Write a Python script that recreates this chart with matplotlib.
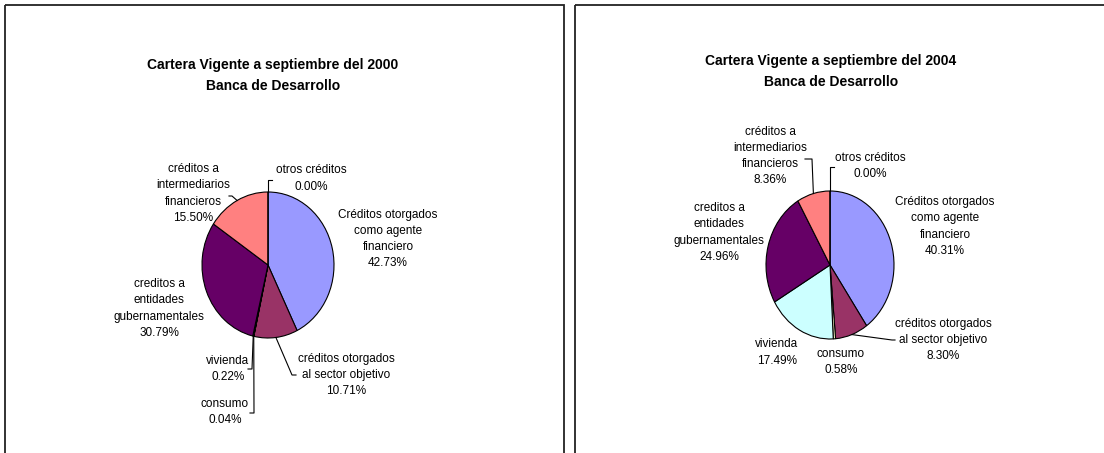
import numpy as np
import matplotlib
matplotlib.use("Agg")
import matplotlib.pyplot as plt
from matplotlib.patches import Rectangle

plt.rcParams['font.family'] = ['Liberation Sans', 'DejaVu Sans']

# data
categories = ['Créditos otorgados\ncomo agente\nfinanciero',
              'créditos otorgados\nal sector objetivo',
              'consumo',
              'vivienda',
              'creditos a\nentidades\ngubernamentales',
              'créditos a\nintermediarios\nfinancieros',
              'otros créditos']
colors = ['#9999FF', '#993366', '#FFFFCC', '#CCFFFF', '#660066', '#FF8080', '#0066CC']

share_2000 = [42.73, 10.71, 0.04, 0.22, 30.79, 15.50, 0.00]
share_2004 = [40.31, 8.30, 0.58, 17.49, 24.96, 8.36, 0.00]

titles = ['Cartera Vigente a septiembre del 2000\nBanca de Desarrollo',
          'Cartera Vigente a septiembre del 2004\nBanca de Desarrollo']

W, H = 1104, 453

# layout of each panel (pixels): pie centre / radii, title place, label places
# leaders: index -> (elbow x, elbow y, tip x)
panels = [
    dict(values=share_2000, box=(5, 5, 559),
         center=(268, 265), rx=66, ry=73, title=(273, 75.5),
         labels=[(388, 239), (346, 375), (225, 412), (228, 369),
                 (159, 308.5), (193, 193.5), (311, 178.5)],
         leaders={1: (292, 375, 296), 2: (254, 413, 250),
                  3: (252, 369, 248), 5: (232, 196, 229), 6: (268, 180, 272)}),
    dict(values=share_2004, box=(575, 5, 540),
         center=(830, 265), rx=64, ry=74, title=(831, 71.5),
         labels=[(945, 226.5), (943, 340), (841, 362), (777, 352.5),
                 (719, 232.5), (770, 156), (870, 166)],
         leaders={1: (892, 340, 895), 5: (812, 159, 805), 6: (830, 167, 834)}),
]

fig = plt.figure(figsize=(W / 100, H / 100), dpi=100)
fig.patch.set_facecolor('white')

for p in panels:
    cx, cy = p['center']
    rx, ry = p['rx'], p['ry']
    pax = fig.add_axes([(cx - rx) / W, 1 - (cy + ry) / H, 2 * rx / W, 2 * ry / H])
    pax.pie(p['values'], colors=colors, startangle=90, counterclock=False,
            wedgeprops=dict(edgecolor='black', linewidth=0.8))
    pax.set_aspect('auto')
    pax.set_xlim(-1, 1)
    pax.set_ylim(-1, 1)
    pax.axis('off')

ax = fig.add_axes([0, 0, 1, 1])
ax.set_xlim(0, W)
ax.set_ylim(H, 0)
ax.axis('off')
ax.patch.set_alpha(0)

for p, t in zip(panels, titles):
    x0, y0, w = p['box']
    ax.add_patch(Rectangle((x0, y0), w, H + 20, fill=False, edgecolor='#222222',
                           linewidth=1.3, clip_on=False))
    ax.text(p['title'][0], p['title'][1], t, ha='center', va='center',
            fontsize=10, fontweight='bold', linespacing=1.65)

    cx, cy = p['center']
    vals = np.array(p['values'])
    mids = np.cumsum(vals) - vals / 2
    for i, (name, v) in enumerate(zip(categories, vals)):
        lx, ly = p['labels'][i]
        ax.text(lx, ly, '{}\n{:.2f}%'.format(name, v), ha='center', va='center',
                fontsize=8.5, linespacing=1.45)
        leader = p['leaders'].get(i)
        if leader:
            ang = np.deg2rad(90 - 360 * mids[i] / vals.sum())
            ex = cx + p['rx'] * np.cos(ang)
            ey = cy - p['ry'] * np.sin(ang)
            ax.plot([ex, leader[0], leader[2]], [ey, leader[1], leader[1]],
                    color='black', linewidth=0.8)

fig.savefig('out.png', dpi=100, facecolor='white')
